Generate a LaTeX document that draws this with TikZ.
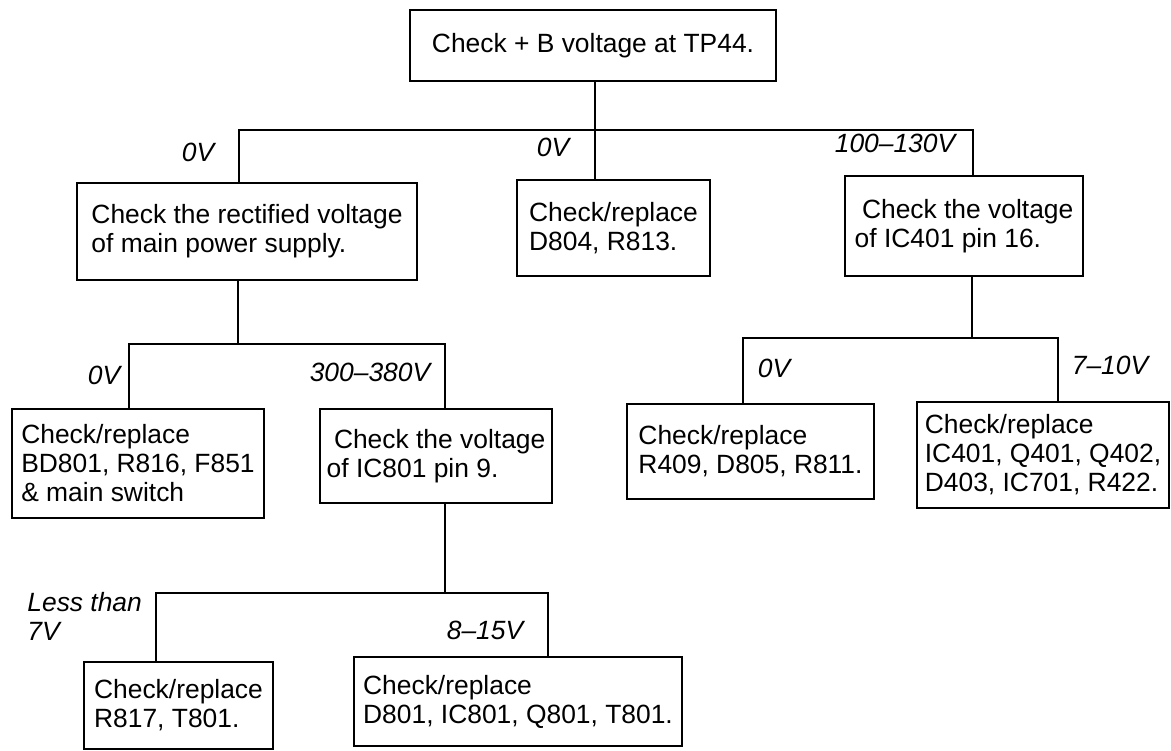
\documentclass[tikz,border=0pt]{standalone}
\usepackage{fontspec}
\setmainfont{Liberation Sans}

\begin{document}
\begin{tikzpicture}[x=0.5pt,y=-0.5pt,font=\fontsize{13.2}{14.5}\selectfont,
  box/.style={draw,line width=1.3pt,align=left,inner sep=0pt},
  link/.style={line width=1pt},
  val/.style={font=\fontsize{13.2}{14.5}\selectfont\itshape,inner sep=1pt}]
\useasboundingbox (0,0) rectangle (1171,750);

\node[box,minimum width=183pt,minimum height=35.5pt] (top) at (593,45.5) {Check + B voltage at TP44.};
\node[box,minimum width=170pt,minimum height=48.5pt] (rect) at (247,231.5) {Check the rectified voltage\\of main power supply.};
\node[box,minimum width=96.5pt,minimum height=48pt] (mid) at (613.5,228) {Check/replace\\D804, R813.};
\node[box,minimum width=119pt,minimum height=50pt] (chk401) at (964,226) {\ Check the voltage\\of IC401 pin 16.};
\node[box,minimum width=126pt,minimum height=54.5pt] (bd801) at (138,463.5) {Check/replace\\BD801, R816, F851\\\& main switch};
\node[box,minimum width=116pt,minimum height=47pt] (chk801) at (436,456) {\ Check the voltage\\of IC801 pin 9.};
\node[box,minimum width=94.5pt,minimum height=43.5pt] (r817) at (178.5,705.5) {Check/replace\\R817, T801.};
\node[box,minimum width=164pt,minimum height=44.5pt] (d801) at (518,701.5) {Check/replace\\D801, IC801, Q801, T801.};
\node[box,minimum width=123.5pt,minimum height=47.5pt] (r409) at (750.5,451.5) {Check/replace\\R409, D805, R811.};
\node[box,minimum width=126pt,minimum height=53pt] (ic401) at (1043,455) {Check/replace\\IC401, Q401, Q402,\\D403, IC701, R422.};

\coordinate (b1l) at (239,130);
\coordinate (b1m) at (595,130);
\coordinate (b1r) at (973,130);
\coordinate (b2l) at (129,344);
\coordinate (b2m) at (238,344);
\coordinate (b2r) at (445,344);
\coordinate (b3l) at (156,593);
\coordinate (b3m) at (445,593);
\coordinate (b3r) at (548,593);
\coordinate (b4l) at (743,338);
\coordinate (b4m) at (972,338);
\coordinate (b4r) at (1058,338);

\draw[link] (top.south -| b1m) -- (mid.north -| b1m);
\draw[link] (rect.north -| b1l) |- (b1r) -- (chk401.north -| b1r);
\draw[link] (rect.south -| b2m) -- (b2m);
\draw[link] (bd801.north -| b2l) |- (b2r) -- (chk801.north -| b2r);
\draw[link] (chk801.south -| b3m) -- (b3m);
\draw[link] (r817.north -| b3l) |- (b3r) -- (d801.north -| b3r);
\draw[link] (chk401.south -| b4m) -- (b4m);
\draw[link] (r409.north -| b4l) |- (b4r) -- (ic401.north -| b4r);

\node[val] (v1) at (198,152) {0V};
\node[val] (v2) at (553,147) {0V};
\node[val] (v3) at (895,143) {100--130V};
\node[val] (v4) at (104,375) {0V};
\node[val] (v5) at (370,372) {300--380V};
\node[val] (v6) at (774,368) {0V};
\node[val] (v7) at (1110,365) {7--10V};
\node[val,anchor=west,align=left] (v8) at (25,616) {Less than\\7V};
\node[val] (v9) at (485,630) {8--15V};
\end{tikzpicture}
\end{document}
